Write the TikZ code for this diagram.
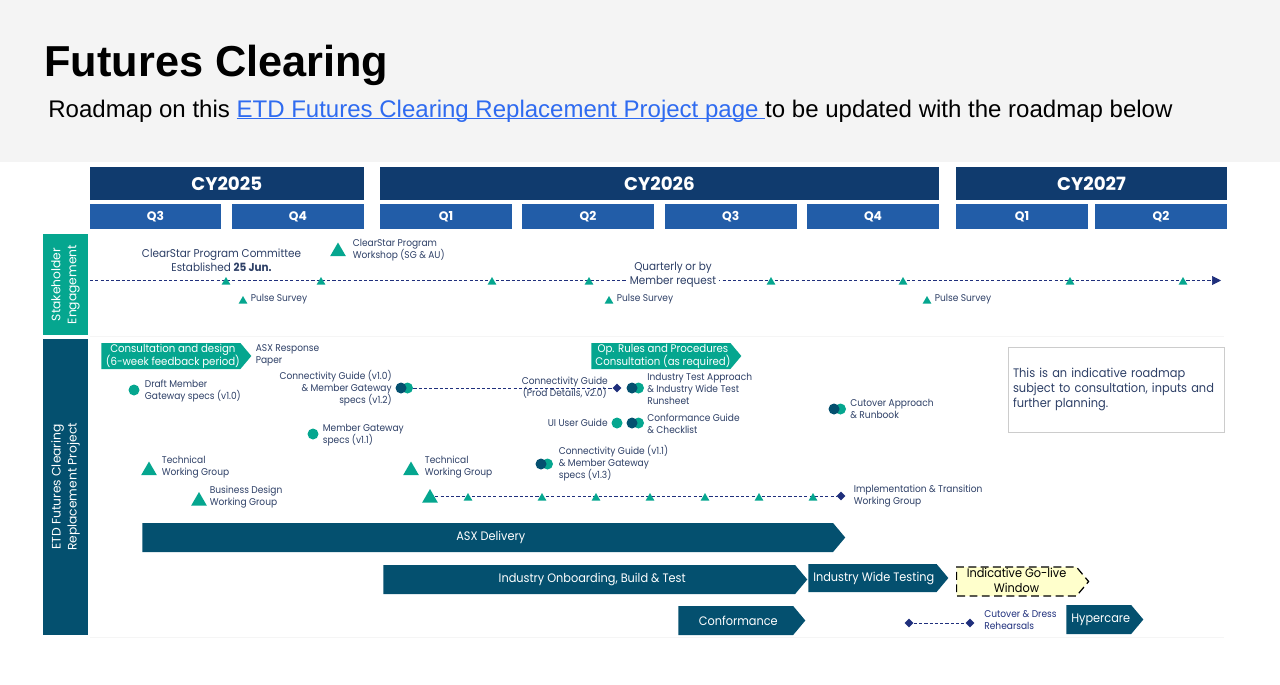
\documentclass[tikz,border=0pt]{standalone}
\usepackage{fontspec}
\setmainfont{Liberation Sans}
\newfontfamily\roadfont[FakeStretch=0.92]{Poppins}
\newfontfamily\headfont{Poppins}
\usetikzlibrary{arrows.meta,shapes.geometric,shapes.symbols}
\normallineskiplimit=-5pt
\lineskiplimit=-5pt
\definecolor{bandgray}{HTML}{F4F4F4}
\definecolor{yearblue}{HTML}{103B6E}
\definecolor{quarterblue}{HTML}{225DA8}
\definecolor{teal}{HTML}{05A68F}
\definecolor{deepteal}{HTML}{04506F}
\definecolor{linknavy}{HTML}{1F2F7C}
\definecolor{labelnavy}{HTML}{2D3F66}
\definecolor{linkblue}{HTML}{2F6BF0}
\definecolor{goldlive}{HTML}{FFFFCC}
\newcommand{\linkline}[1]{\setbox0\hbox{#1}\rlap{\rule[-1.4pt]{\wd0}{0.6pt}}\box0}
\tikzset{
  yearbox/.style={fill=yearblue,text=white,inner sep=0pt,font=\headfont\fontsize{10.4}{12}\selectfont\bfseries},
  quarterbox/.style={fill=quarterblue,text=white,inner sep=0pt,font=\headfont\fontsize{7}{8}\selectfont\bfseries},
  rowbox/.style={text=white,inner sep=0pt,align=center,rotate=90,font=\headfont\fontsize{7}{9.2}\selectfont},
  lbl/.style={text=labelnavy,inner sep=0pt,align=left,anchor=west,font=\roadfont\fontsize{5.6}{6.85}\selectfont},
  lblr/.style={lbl,align=right,anchor=east},
  lblbig/.style={lbl,anchor=center,align=center,font=\roadfont\fontsize{6.45}{8}\selectfont},
  bigtri/.style={regular polygon,regular polygon sides=3,fill=teal,inner sep=0pt,minimum size=0.36cm},
  smalltri/.style={regular polygon,regular polygon sides=3,fill=teal,inner sep=0pt,minimum size=0.2cm},
  dotteal/.style={circle,fill=teal,inner sep=0pt,minimum size=0.22cm},
  dotdeep/.style={circle,fill=deepteal,inner sep=0pt,minimum size=0.22cm},
  gem/.style={diamond,fill=linknavy,inner sep=0pt,minimum size=0.18cm},
  dashline/.style={linknavy,line width=0.4pt,dash pattern=on 1.8pt off 1.2pt},
  chevron/.style={signal,signal to=east,signal pointer angle=100,inner sep=0pt,anchor=west,align=center},
  tealbar/.style={chevron,fill=teal,text=white,font=\roadfont\fontsize{6.3}{7.4}\selectfont},
  deepbar/.style={chevron,fill=deepteal,text=white,font=\roadfont\fontsize{7}{8.5}\selectfont},
}
\begin{document}
\begin{tikzpicture}[x=0.02cm,y=-0.02cm]
  \useasboundingbox (0,0) rectangle (1280,684);

  % Banda del titulo
  \fill[bandgray] (0,0) rectangle (1280,162);
  \node[anchor=base west,inner sep=0pt,font=\fontsize{24.65}{30}\selectfont\bfseries] (title) at (44,76) {Futures Clearing};
  \node[anchor=base west,inner sep=0pt,font=\fontsize{13.67}{16}\selectfont] (subtitle) at (48,117)
    {Roadmap on this {\color{linkblue}\linkline{ETD Futures Clearing Replacement Project page\ }}to be updated with the roadmap below};

  % Calendario
  \node[yearbox,minimum width=5.49cm,minimum height=0.66cm] (cy25) at (226.75,183.5) {CY2025};
  \node[yearbox,minimum width=11.18cm,minimum height=0.66cm] (cy26) at (659.5,183.5) {CY2026};
  \node[yearbox,minimum width=5.42cm,minimum height=0.66cm] (cy27) at (1091.5,183.5) {CY2027};
  \foreach \n/\cx/\t in {a/155.5/Q3,b/298/Q4,c/446/Q1,d/588/Q2,e/730.75/Q3,f/873/Q4,g/1022/Q1,h/1161/Q2}
    \node[quarterbox,minimum width=2.64cm,minimum height=0.5cm] (q\n) at (\cx,216.5) {\t};

  % Filas
  \fill[bandgray!80!gray!30] (90,335.5) rectangle (1224,337);
  \fill[bandgray!80!gray!30] (90,636.5) rectangle (1224,638);
  \node[fill=teal,minimum width=2.02cm,minimum height=0.91cm,rowbox] (rowstake) at (65.5,284.5) {Stakeholder\\Engagement};
  \node[fill=deepteal,minimum width=5.92cm,minimum height=0.91cm,rowbox] (rowetd) at (65.5,487) {ETD Futures Clearing\\Replacement Project};

  % Linea de stakeholders
  \coordinate (sestart) at (90,280.5);
  \coordinate (seend) at (1221,280.5);
  \draw[dashline] (sestart) -- (1214,280.5);
  \draw[linknavy,-{Triangle[length=0.18cm,width=0.18cm]}] (1212,280.5) -- (seend);
  \foreach \x in {226,321,492,589,771,903,1070,1183}
    \node[smalltri] (se\x) at (\x,282) {};
  \node[lblbig,fill=white,inner xsep=0.06cm] (quarterly) at (673,275) {Quarterly or by\\Member request};
  \node[lblbig] (committee) at (221.5,260) {ClearStar Program Committee\\Established \textbf{25 Jun.}};
  \node[bigtri] (workshoptri) at (338,251.5) {};
  \node[lbl] (workshop) at (352.5,250) {ClearStar Program\\Workshop (SG \& AU)};
  \foreach \x/\tx in {243/250.5,609/616.5,927/934.5} {
    \node[smalltri] (pulse\x) at (\x,301) {};
    \node[lbl] (pulsetxt\x) at (\tx,299) {Pulse Survey};
  }

  % Consultas
  \node[tealbar,minimum width=3cm,minimum height=0.52cm] (consult) at (101,356) {\hspace{0.08cm}Consultation and design\\\hspace{0.08cm}(6-week feedback period)};
  \node[lbl] (asxpaper) at (255.5,355.5) {ASX Response\\Paper};
  \node[tealbar,minimum width=3cm,minimum height=0.52cm] (oprules) at (591,356) {\hspace{0.08cm}Op. Rules and Procedures\\\hspace{0.08cm}Consultation (as required)};

  % Documentos
  \node[dotteal] (draftdot) at (134,390) {};
  \node[lbl] (draft) at (144.5,391) {Draft Member\\Gateway specs (v1.0)};
  \node[lblr] (guidea) at (392,388) {Connectivity Guide (v1.0)\\\& Member Gateway\\specs (v1.2)};
  \node[gem] (prodgem) at (617,388) {};
  \node[dotteal] (guideaB) at (407.5,388) {};
  \node[dotdeep] (guideaA) at (401,388) {};
  \draw[dashline] (guideaB) -- (prodgem);
  \node[lbl,align=center] (prodguide) at (521.5,387.5) {Connectivity Guide\\(Prod Details, v2.0)};
  \node[dotteal] (testB) at (638.5,388) {};
  \node[dotdeep] (testA) at (632,388) {};
  \node[lbl] (testtxt) at (647,389) {Industry Test Approach\\\& Industry Wide Test\\Runsheet};
  \node[lblr] (uiguide) at (608,423) {UI User Guide};
  \node[dotteal] (uidot) at (617,423) {};
  \node[dotteal] (confB) at (638.5,423) {};
  \node[dotdeep] (confA) at (632,423) {};
  \node[lbl] (conftxt) at (647,424) {Conformance Guide\\\& Checklist};
  \node[dotteal] (cutB) at (840.5,409) {};
  \node[dotdeep] (cutA) at (834,409) {};
  \node[lbl] (cuttxt) at (850,409) {Cutover Approach\\\& Runbook};
  \node[dotteal] (gatewaydot) at (313,434) {};
  \node[lbl] (gateway) at (322.5,435) {Member Gateway\\specs (v1.1)};
  \node[dotteal] (guidebB) at (547.5,464) {};
  \node[dotdeep] (guidebA) at (541,464) {};
  \node[lbl] (guideb) at (558.5,463.5) {Connectivity Guide (v1.1)\\\& Member Gateway\\specs (v1.3)};

  % Grupos de trabajo
  \node[bigtri] (techtriA) at (149,470.5) {};
  \node[lbl] (techA) at (161.5,467.5) {Technical\\Working Group};
  \node[bigtri] (bdtri) at (199,501) {};
  \node[lbl] (bd) at (209.5,497) {Business Design\\Working Group};
  \node[bigtri] (techtriB) at (411,470.5) {};
  \node[lbl] (techB) at (424.5,467.5) {Technical\\Working Group};
  \coordinate (implstart) at (430,496);
  \node[gem] (implgem) at (841,496) {};
  \draw[dashline] (implstart) -- (implgem);
  \node[bigtri] (impltri) at (430,498) {};
  \foreach \x in {468,542,596,650,705,759,813}
    \node[smalltri] (impl\x) at (\x,498) {};
  \node[lbl] (impl) at (853.5,496) {Implementation \& Transition\\Working Group};

  % Nota
  \node[draw=black!20,line width=0.5pt,minimum width=4.32cm,minimum height=1.7cm,text width=4.12cm,inner sep=0pt,align=left,text=labelnavy,font=\roadfont\fontsize{7.05}{8.5}\selectfont] (note) at (1116,389.5) {This is an indicative roadmap\\subject to consultation, inputs and\\further planning.};

  % Barras
  \node[deepbar,minimum width=14.06cm,minimum height=0.58cm] (asx) at (142,537.5) {\hspace{0.12cm}ASX Delivery};
  \node[deepbar,minimum width=8.48cm,minimum height=0.58cm] (onboard) at (383,579.5) {\hspace{0.12cm}Industry Onboarding, Build \& Test};
  \node[deepbar,minimum width=2.8cm,minimum height=0.56cm] (wide) at (808,578) {\hspace{0.05cm}Industry Wide Testing};
  \node[chevron,draw=black,line width=0.7pt,dash pattern=on 4.5pt off 2.5pt,fill=goldlive,minimum width=2.64cm,minimum height=0.58cm,font=\roadfont\fontsize{7}{8.5}\selectfont] (golive) at (956,581.5) {\raisebox{1.1pt}{Indicative Go-live}\\\raisebox{1.1pt}{Window}};
  \node[deepbar,minimum width=2.54cm,minimum height=0.58cm] (conform) at (678,620.5) {\hspace{0.1cm}Conformance};
  \node[deepbar,minimum width=1.54cm,minimum height=0.58cm] (hyper) at (1066,619.5) {\hspace{0.08cm}Hypercare};
  \node[gem] (dressa) at (909,623) {};
  \node[gem] (dressb) at (970,623) {};
  \draw[dashline] (dressa) -- (dressb);
  \node[lbl,text=linknavy] (dress) at (984,620.5) {Cutover \& Dress\\Rehearsals};
\end{tikzpicture}
\end{document}
